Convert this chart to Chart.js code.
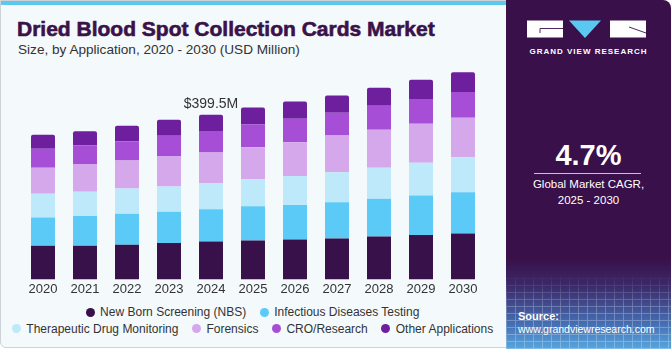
<!DOCTYPE html>
<html>
<head>
<meta charset="utf-8">
<script src="https://cdn.jsdelivr.net/npm/chart.js@4.4.1/dist/chart.umd.min.js"></script>
<style>
  body { margin: 0; width: 671px; height: 350px; background: #fff; font-family: "Liberation Sans", Arial, sans-serif; overflow: hidden; position: relative; }
  .card { position: absolute; left: 0; top: 0; width: 515px; height: 348px; background: #F4F9FC; border: 1px solid #cdd2d6; border-radius: 0 0 0 6px; box-sizing: border-box; }
  .topline { position: absolute; left: 1px; top: 1px; width: 505px; height: 4px; background: #5BC8F2; }
  .title { position: absolute; left: 17px; top: 18px; font-size: 21px; line-height: 21px; font-weight: bold; color: #3B1248; -webkit-text-stroke: 0.6px #3B1248; white-space: nowrap; }
  .subtitle { position: absolute; left: 18px; top: 42.5px; font-size: 13.6px; line-height: 13.6px; color: #333; white-space: nowrap; }
  #chartBox { position: absolute; left: 0; top: 0; width: 505px; height: 300px; }
  .legend { position: absolute; left: 0; width: 505px; display: flex; justify-content: center; font-size: 12px; color: #333; line-height: 16px; }
  .legend .item { display: flex; align-items: center; margin: 0 6.75px; white-space: nowrap; }
  .legend .dot { width: 9px; height: 9px; border-radius: 50%; margin-right: 5.5px; }
  .panel { position: absolute; left: 506px; top: 0; width: 165px; height: 349px; border-radius: 0 8px 0 0; overflow: hidden;
    background: linear-gradient(180deg, #391049 0%, #391049 74%, #3b2a6a 82%, #4670b4 93%, #58a6de 100%); }
  .mesh { position: absolute; left: 0; bottom: 0; width: 165px; height: 75px; opacity: 0.28;
    background-image: repeating-linear-gradient(90deg, rgba(255,255,255,0.9) 0 1px, transparent 1px 9px), repeating-linear-gradient(0deg, rgba(255,255,255,0.9) 0 1px, transparent 1px 7px);
    -webkit-mask-image: linear-gradient(180deg, transparent 0%, #000 45%); }
  .ptext { position: absolute; left: 0; width: 165px; text-align: center; color: #fff; white-space: nowrap; }
  .brand { top: 47.5px; font-size: 8px; line-height: 8px; font-weight: bold; letter-spacing: 1px; }
  .cagr { top: 141px; font-size: 29px; line-height: 29px; font-weight: bold; }
  .rule { position: absolute; left: 28px; top: 173px; width: 107px; height: 1px; background: #cbbfd3; }
  .sub1 { top: 179.3px; font-size: 11.5px; line-height: 11.5px; }
  .sub2 { top: 194.8px; font-size: 11.5px; line-height: 11.5px; }
  .src { position: absolute; left: 12px; color: #fff; white-space: nowrap; }
  .src1 { top: 310.7px; font-size: 11px; line-height: 11px; font-weight: bold; }
  .src2 { top: 324.1px; font-size: 10.5px; line-height: 10.5px; }
</style>
</head>
<body>
<div class="card"></div>
<div class="topline"></div>
<div class="title">Dried Blood Spot Collection Cards Market</div>
<div class="subtitle">Size, by Application, 2020 - 2030 (USD Million)</div>
<div id="chartBox"><canvas id="marketChart" width="505" height="300"></canvas></div>
<div class="legend" id="legendRow1" style="top:304.3px"></div>
<div class="legend" id="legendRow2" style="top:320.7px"></div>

<div class="panel">
  <svg style="position:absolute;left:21px;top:20px" width="122" height="19" viewBox="0 0 122 19">
    <rect x="0" y="0.5" width="36" height="17" fill="#fff"/>
    <polyline points="13,13 13,8.5 36,8.5" fill="none" stroke="#391049" stroke-width="0.9"/>
    <polygon points="42,0.5 74,0.5 58,18" fill="#5BC8F2"/>
    <rect x="83" y="0.5" width="36" height="17" fill="#fff"/>
    <polyline points="102,7 119,13" fill="none" stroke="#391049" stroke-width="0.9"/>
  </svg>
  <div class="ptext brand">GRAND VIEW RESEARCH</div>
  <div class="ptext cagr">4.7%</div>
  <div class="rule"></div>
  <div class="ptext sub1">Global Market CAGR,</div>
  <div class="ptext sub2">2025 - 2030</div>
  <div class="mesh"></div>
  <div class="src src1">Source:</div>
  <div class="src src2">www.grandviewresearch.com</div>
</div>

<script>
const years = ["2020", "2021", "2022", "2023", "2024", "2025", "2026", "2027", "2028", "2029", "2030"];
const nbs = [81.8, 81.8, 84.2, 88.3, 92.3, 94.7, 97.1, 99.5, 104.3, 107.5, 111.5];
const infectious = [68.2, 72.2, 75.4, 76.2, 77.8, 82.6, 83.4, 87.5, 91.5, 96.3, 100.3];
const therapeutic = [57.8, 58.6, 61.0, 61.0, 64.2, 65.8, 70.6, 73.0, 75.4, 79.4, 85.0];
const forensics = [63.4, 67.4, 68.2, 73.8, 73.8, 77.8, 81.8, 89.1, 92.3, 94.7, 95.5];
const croResearch = [45.7, 45.7, 46.5, 49.7, 52.1, 55.4, 57.0, 55.4, 57.8, 60.2, 62.6];
const otherApps = [34.5, 33.7, 37.7, 38.5, 39.3, 40.9, 41.7, 41.7, 44.1, 46.5, 48.1];
const seriesNames = ["New Born Screening (NBS)", "Infectious Diseases Testing", "Therapeutic Drug Monitoring", "Forensics", "CRO/Research", "Other Applications"];
const seriesColors = ["#38104A", "#5BCAF6", "#BEE9FA", "#D5A8EC", "#A64FD6", "#6E1F9E"];
const calloutIndex = 4;
const calloutText = "$399.5M";

const seriesValues = [nbs, infectious, therapeutic, forensics, croResearch, otherApps];

// label above the 2024 bar
const calloutPlugin = {
    id: 'callout',
    afterDatasetsDraw(chart) {
        const meta = chart.getDatasetMeta(chart.data.datasets.length - 1);
        const bar = meta.data[calloutIndex];
        if (!bar) return;
        const ctx = chart.ctx;
        ctx.save();
        ctx.font = '14px "Liberation Sans", Arial, sans-serif';
        ctx.fillStyle = '#333333';
        ctx.textAlign = 'center';
        ctx.textBaseline = 'alphabetic';
        ctx.fillText(calloutText, bar.x, bar.y - 7);
        ctx.restore();
    }
};

const ctx = document.getElementById('marketChart').getContext('2d');
const marketChart = new Chart(ctx, {
    type: 'bar',
    data: {
        labels: years,
        datasets: seriesValues.map((vals, i) => ({
            label: seriesNames[i], data: vals, backgroundColor: seriesColors[i],
            borderWidth: 0, borderRadius: 2, barPercentage: 0.571, categoryPercentage: 1
        }))
    },
    options: {
        responsive: false, animation: false,
        layout: { padding: { left: 22, right: 21, top: 24, bottom: 1 } },
        scales: {
            x: { stacked: true, grid: { display: false, drawTicks: false }, border: { display: false },
                 ticks: { color: '#333333', padding: 2, font: { size: 13, family: '"Liberation Sans", Arial, sans-serif' } } },
            y: { stacked: true, display: false, min: 0, max: 620 }
        },
        plugins: { legend: { display: false }, tooltip: { enabled: false } }
    },
    plugins: [calloutPlugin]
});

function buildLegend(el, idxs) {
    idxs.forEach(i => {
        const ds = marketChart.data.datasets[i];
        const item = document.createElement('div');
        item.className = 'item';
        item.innerHTML = `<span class="dot" style="background:${ds.backgroundColor}"></span><span>${ds.label}</span>`;
        el.appendChild(item);
    });
}
buildLegend(document.getElementById('legendRow1'), [0, 1]);
buildLegend(document.getElementById('legendRow2'), [2, 3, 4, 5]);
</script>
</body>
</html>
